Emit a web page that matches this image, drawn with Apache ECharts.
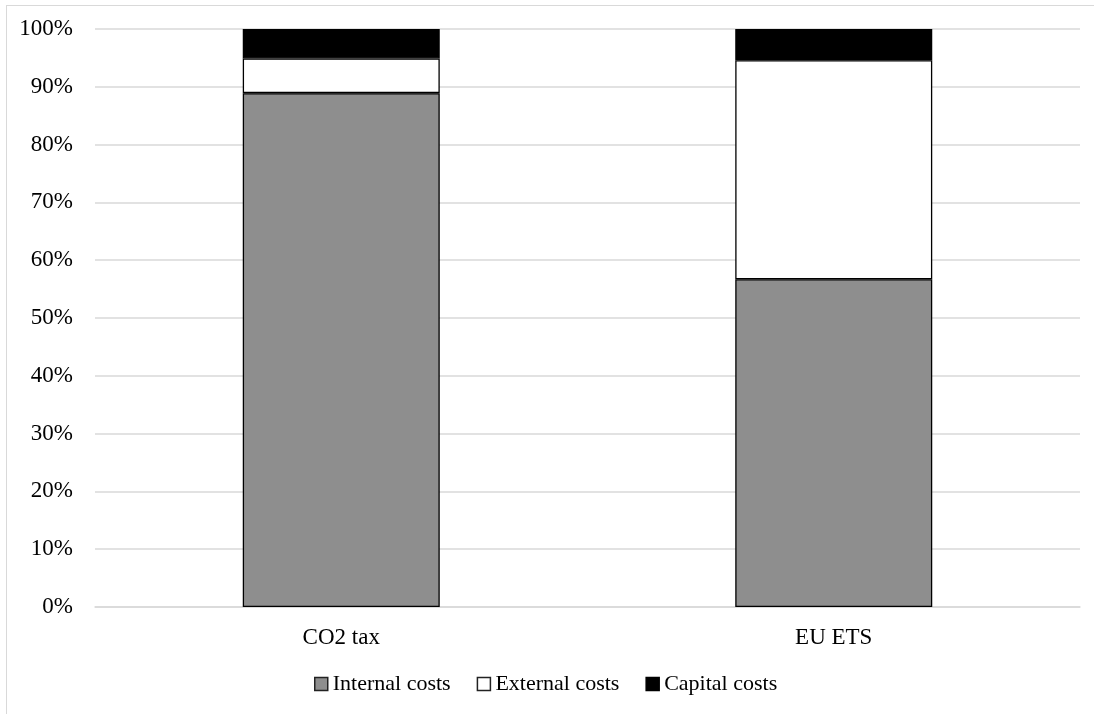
<!DOCTYPE html>
<html>
<head>
<meta charset="utf-8">
<script src="https://cdn.jsdelivr.net/npm/echarts@6/dist/echarts.min.js"></script>
<style>
  html, body { margin: 0; padding: 0; background: #fff; }
  #frame { position: absolute; left: 6px; top: 5px; width: 1200px; height: 800px; border: 1px solid #d9d9d9; box-sizing: border-box; }
  #chart { position: absolute; left: 0; top: 0; width: 1094px; height: 714px; }
</style>
</head>
<body>
<div id="frame"></div>
<div id="chart"></div>
<script>
// Share of total costs by policy instrument (%)
const categories = ['CO2 tax', 'EU ETS'];
const internalCosts = [88.9, 56.7];
const externalCosts = [6.0, 37.9];
const capitalCosts = [5.1, 5.4];
const yTicks = [0, 10, 20, 30, 40, 50, 60, 70, 80, 90, 100];

const font = 'Liberation Serif, "Times New Roman", serif';
const chart = echarts.init(document.getElementById('chart'), null, { renderer: 'canvas' });

function barSeries(name, data, color) {
  return {
    name: name,
    type: 'bar',
    stack: 'total',
    data: data,
    barWidth: '40%',
    itemStyle: { color: color, borderColor: '#000', borderWidth: 1.3 },
    emphasis: { disabled: true }
  };
}

chart.setOption({
  animation: false,
  textStyle: { fontFamily: font },
  grid: { left: 95, right: 14, top: 29, bottom: 107, containLabel: false },
  legend: {
    bottom: 14,
    left: 309,
    itemWidth: 13,
    itemHeight: 13,
    itemGap: 26,
    textStyle: { fontFamily: font, fontSize: 22, color: '#000' },
    data: [
      { name: 'Internal costs', icon: 'rect', itemStyle: { borderColor: '#222', borderWidth: 1.5 } },
      { name: 'External costs', icon: 'rect', itemStyle: { borderColor: '#222', borderWidth: 1.5 } },
      { name: 'Capital costs', icon: 'rect', itemStyle: { borderColor: '#000', borderWidth: 1.5 } }
    ]
  },
  xAxis: {
    type: 'category',
    data: categories,
    axisLine: { show: true, lineStyle: { color: '#d9d9d9', width: 1.5 } },
    axisTick: { show: false },
    axisLabel: { fontFamily: font, fontSize: 23, color: '#000', margin: 19 }
  },
  yAxis: {
    type: 'value',
    min: yTicks[0],
    max: yTicks[yTicks.length - 1],
    interval: 10,
    axisLine: { show: false },
    axisTick: { show: false },
    splitLine: { lineStyle: { color: '#d9d9d9', width: 1.5 } },
    axisLabel: { fontFamily: font, fontSize: 23, color: '#000', margin: 22, formatter: v => v + '%' }
  },
  series: [
    barSeries('Internal costs', internalCosts, '#8e8e8e'),
    barSeries('External costs', externalCosts, '#ffffff'),
    barSeries('Capital costs', capitalCosts, '#000000')
  ]
});
</script>
</body>
</html>
